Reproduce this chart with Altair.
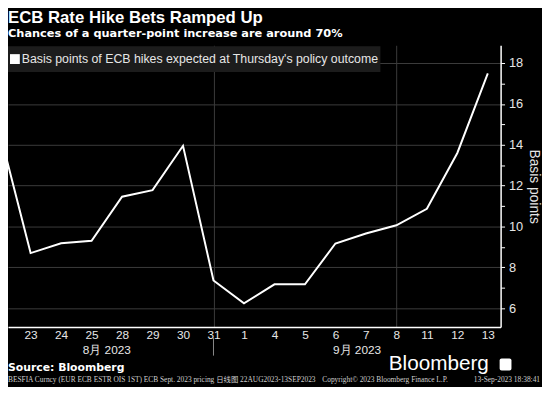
import altair as alt
import pandas as pd

# ---------------- data ----------------
days = ["22", "23", "24", "25", "28", "29", "30", "31", "1", "4", "5", "6", "7", "8", "11", "12", "13"]
bps = [14.55, 8.7, 9.18, 9.3, 11.46, 11.78, 13.95, 7.36, 6.24, 7.17, 7.17, 9.17, 9.66, 10.06, 10.87, 13.6, 17.5]
month_labels = ["8月 2023", "9月 2023"]
month_centers = [3.5, 11.71]
month_break = [7]
v_grid = [7, 13]
h_grid = [6, 8, 10, 12, 14, 16, 18]
y_ticks = list(range(6, 19))
x_ticks = list(range(1, len(days)))

title = "ECB Rate Hike Bets Ramped Up"
subtitle = "Chances of a quarter-point increase are around 70%"
legend_label = "Basis points of ECB hikes expected at Thursday's policy outcome"
source = "Source: Bloomberg"
footer_left = "BESFIA Curncy (EUR ECB ESTR OIS 1ST) ECB Sept. 2023 pricing  日线图 22AUG2023-13SEP2023"
footer_mid = "Copyright© 2023 Bloomberg Finance L.P."
footer_right = "13-Sep-2023 18:38:41"

df = pd.DataFrame({"i": list(range(len(days))), "day": days, "bps": bps})

FONT = "Liberation Sans"
LIGHT = "#e6e6e6"
GRID = "#3c3c3c"

xs = alt.Scale(domain=[0.258, 16.42], nice=False, zero=False)
ys = alt.Scale(domain=[5.08, 18.87], nice=False, zero=False)

label_expr = "[" + ",".join(f"'{d}'" for d in days) + "][datum.value]"
x_grid_test = "indexof([" + ",".join(str(v) for v in v_grid) + "], datum.value) >= 0"
y_grid_test = "indexof([" + ",".join(str(v) for v in h_grid) + "], datum.value) >= 0"

x_axis = alt.Axis(
    values=x_ticks,
    labelExpr=label_expr,
    grid=True,
    gridColor=GRID,
    gridWidth=1,
    gridOpacity=alt.condition(x_grid_test, alt.value(1), alt.value(0)),
    ticks=False,
    domainColor="white",
    domainWidth=1.5,
    labelColor=LIGHT,
    labelFont=FONT,
    labelFontSize=12,
    labelPadding=3,
    title=None,
)
y_axis = alt.Axis(
    orient="right",
    values=y_ticks,
    labelExpr="datum.value % 2 == 0 ? datum.label : ''",
    grid=True,
    gridColor=GRID,
    gridWidth=1,
    gridOpacity=alt.condition(y_grid_test, alt.value(1), alt.value(0)),
    tickColor="white",
    tickSize=4,
    domainColor="white",
    domainWidth=1.5,
    labelColor=LIGHT,
    labelFont=FONT,
    labelFontSize=13,
    labelPadding=4,
    title="Basis points",
    titleColor=LIGHT,
    titleFont=FONT,
    titleFontSize=14,
    titleFontWeight="normal",
    titlePadding=4,
)

# ---------------- layers ----------------
line = alt.Chart(df).mark_line(color="white", strokeWidth=2, clip=True).encode(
    x=alt.X("i:Q", scale=xs, axis=x_axis),
    y=alt.Y("bps:Q", scale=ys, axis=y_axis),
)

sep = alt.Chart(pd.DataFrame({"m": month_break})).mark_rule(color="#8a8a8a", strokeWidth=1).encode(
    x=alt.X("m:Q", scale=xs, axis=x_axis), y=alt.value(297), y2=alt.value(315)
)

months = alt.Chart(pd.DataFrame({"c": month_centers, "t": month_labels})).mark_text(
    color=LIGHT, font=FONT, fontSize=12, baseline="middle", align="center"
).encode(x=alt.X("c:Q", scale=xs, axis=x_axis), y=alt.value(309), text="t:N")


def txt(s, x, y, **kw):
    return alt.Chart(pd.DataFrame({"t": [s]})).mark_text(**kw).encode(
        x=alt.value(x), y=alt.value(y), text="t:N"
    )


legend_box = alt.Chart(pd.DataFrame({"a": [0]})).mark_rect(color="#1c1c1c").encode(
    x=alt.value(0), x2=alt.value(378), y=alt.value(1), y2=alt.value(27)
)
legend_sq = alt.Chart(pd.DataFrame({"a": [0]})).mark_rect(color="white").encode(
    x=alt.value(2), x2=alt.value(12), y=alt.value(9), y2=alt.value(19)
)
legend_txt = txt(legend_label, 14, 14, color=LIGHT, font=FONT, fontSize=12.5,
                 align="left", baseline="middle")

title_t = txt(title, 0, -22.5, color="white", font=FONT, fontSize=17, fontWeight="bold",
              align="left", baseline="alphabetic")
sub_t = txt(subtitle, 0, -8.5, color="white", font="DejaVu Sans", fontSize=11.5, fontWeight="bold",
            align="left", baseline="alphabetic")
source_t = txt(source, 0, 331, color="white", font="DejaVu Sans", fontSize=11, fontWeight="bold",
               align="left", baseline="alphabetic")
logo_t = txt("Bloomberg", 488, 330, color="white", font=FONT, fontSize=21,
             align="right", baseline="alphabetic")
icon = alt.Chart(pd.DataFrame({"a": [0]})).mark_rect(color="white", cornerRadius=2).encode(
    x=alt.value(499), x2=alt.value(511), y=alt.value(318), y2=alt.value(330)
)
f1 = txt(footer_left, 0, 342, color="#cfcfcf", font="Liberation Serif, Noto Sans CJK SC",
         fontSize=7.5, align="left", baseline="alphabetic")
f2 = txt(footer_mid, 319, 342, color="#cfcfcf", font="Liberation Serif", fontSize=7.5,
         align="left", baseline="alphabetic")
f3 = txt(footer_right, 540, 342, color="#cfcfcf", font="Liberation Serif", fontSize=7.5,
         align="right", baseline="alphabetic")

chart = alt.layer(
    line, sep, months, legend_box, legend_sq, legend_txt,
    title_t, sub_t, source_t, logo_t, icon, f1, f2, f3,
).properties(
    width=500,
    height=286,
    padding={"left": 0, "top": 35, "right": 42, "bottom": 58},
    autosize=alt.AutoSizeParams(type="none"),
    background="black",
).configure_view(stroke=None)

chart.save("out.html", embed_options={"renderer": "svg", "actions": False})
